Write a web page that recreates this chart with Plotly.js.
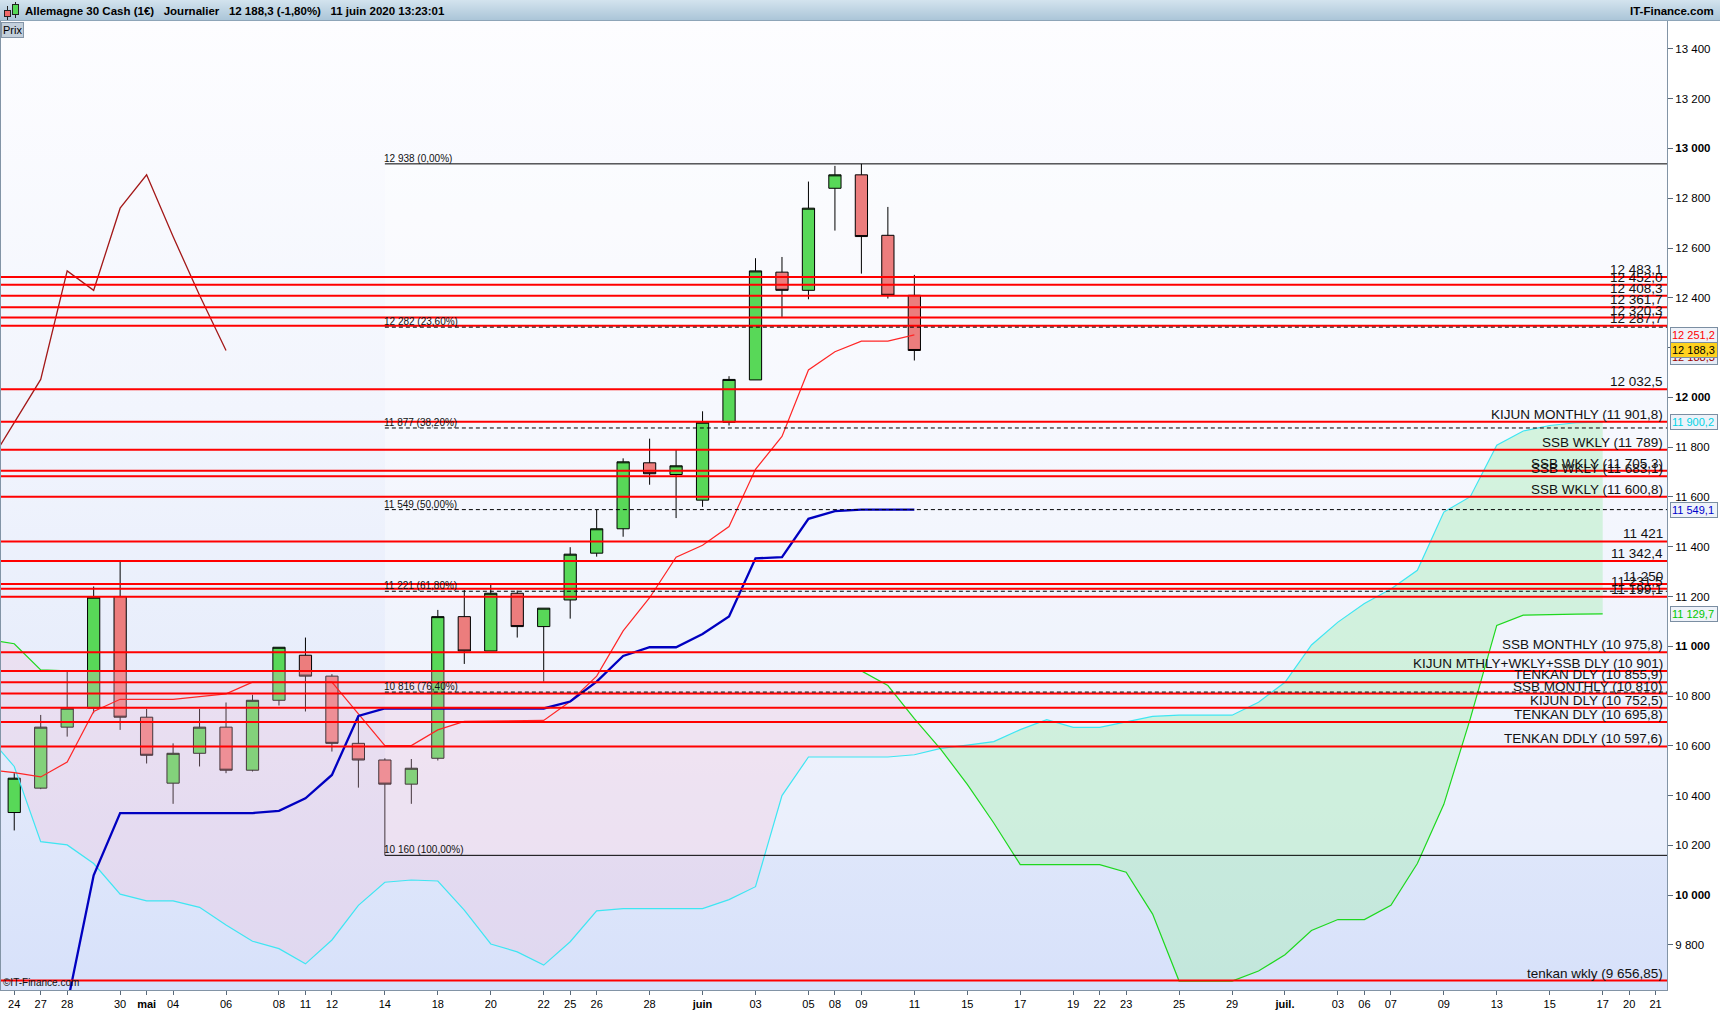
<!DOCTYPE html>
<html><head><meta charset="utf-8">
<script src="https://cdn.plot.ly/plotly-3.0.1.min.js"></script>
<style>
html,body{margin:0;padding:0;background:#fff;overflow:hidden;width:1720px;height:1010px;}
#bar{position:absolute;left:0;top:0;width:1720px;height:20px;background:linear-gradient(#d3e3ee,#abc5d8);border-bottom:1px solid #8ea5b8;}
#plotbg{position:absolute;left:1px;top:21px;width:1666px;height:969px;background:linear-gradient(#fdfdff 0%,#f2f5fd 40%,#e6ecfb 70%,#d7e1fa 100%);}
#chart{position:absolute;left:0;top:0;width:1720px;height:1010px;}
.ic{position:absolute;border:1px solid #222;box-sizing:border-box;}
.wk{position:absolute;width:1px;background:#222;}
</style></head><body>
<div id="bar"></div>
<div class="wk" style="left:7px;top:6px;height:14px"></div>
<div class="ic" style="left:4px;top:10px;width:7px;height:7px;background:#ef6a6a"></div>
<div class="wk" style="left:15px;top:2px;height:16px"></div>
<div class="ic" style="left:12px;top:4px;width:7px;height:11px;background:#55d855"></div>
<div id="plotbg"></div>
<div id="chart"></div>
<script>
// ---------- DATA ----------
const dates = ['2020-04-23','2020-04-24','2020-04-27','2020-04-28','2020-04-29','2020-04-30','2020-05-01','2020-05-04','2020-05-05','2020-05-06','2020-05-07','2020-05-08','2020-05-11','2020-05-12','2020-05-13','2020-05-14','2020-05-15','2020-05-18','2020-05-19','2020-05-20','2020-05-21','2020-05-22','2020-05-25','2020-05-26','2020-05-27','2020-05-28','2020-05-29','2020-06-01','2020-06-02','2020-06-03','2020-06-04','2020-06-05','2020-06-08','2020-06-09','2020-06-10','2020-06-11','2020-06-12','2020-06-15','2020-06-16','2020-06-17','2020-06-18','2020-06-19','2020-06-22','2020-06-23','2020-06-24','2020-06-25','2020-06-26','2020-06-29','2020-06-30','2020-07-01','2020-07-02','2020-07-03','2020-07-06','2020-07-07','2020-07-08','2020-07-09','2020-07-10','2020-07-13','2020-07-14','2020-07-15','2020-07-16','2020-07-17','2020-07-20','2020-07-21'];

const candleDates = ['2020-04-24','2020-04-27','2020-04-28','2020-04-29','2020-04-30','2020-05-01','2020-05-04','2020-05-05','2020-05-06','2020-05-07','2020-05-08','2020-05-11','2020-05-12','2020-05-13','2020-05-14','2020-05-15','2020-05-18','2020-05-19','2020-05-20','2020-05-21','2020-05-22','2020-05-25','2020-05-26','2020-05-27','2020-05-28','2020-05-29','2020-06-01','2020-06-02','2020-06-03','2020-06-04','2020-06-05','2020-06-08','2020-06-09','2020-06-10','2020-06-11'];
const open  = [10332,10430,10675,10751,11200,10715,10450,10570,10675,10502,10783,10964,10880,10610,10543,10446,10550,11119,10981,11213,11079,11186,11374,11472,11737,11690,11587,11900,12070,12503,12430,12840,12894,12651,12410];
const high  = [10490,10724,10898,11240,11340,10748,10610,10748,10774,10805,10996,11035,10888,10718,10550,10547,11146,11226,11247,11224,11153,11398,11548,11755,11834,11790,11944,12085,12559,12564,12867,12930,12938,12765,12492];
const low   = [10260,10426,10637,10731,10664,10529,10367,10517,10490,10497,10762,10738,10577,10432,10160,10367,10541,10929,10981,11035,10858,11111,11360,11440,11649,11515,11560,11887,12070,12323,12394,12670,12497,12397,12148];
const close = [10470,10675,10751,11197,10715,10562,10570,10675,10502,10783,10996,10880,10610,10543,10446,10510,11119,10981,11213,11079,11153,11370,11472,11741,11693,11725,11900,12072,12508,12430,12760,12894,12646,12410,12188.3];

// Ichimoku lines (from 2020-04-23)
const tenkan = [10505,10492,10475,10535,10738,10787,10787,10787,10798,10809,10856,10856,10856,10856,10728,10601,10601,10664,10698,10700,10700,10702,10778,10880,11062,11195,11358,11406,11481,11711,11843,12110,12183,12226,12226,12251.2];
const kijun  = [9300,9350,9420,9560,10080,10330,10330,10330,10330,10330,10330,10339,10389,10483,10720,10750,10750,10750,10750,10750,10750,10750,10778,10858,10961,10996,10996,11049,11120,11353,11358,11512,11543,11549.1,11549.1,11549.1];
const spanA  = [10640,10517,10215,10202,10127,10004,9977,9977,9951,9880,9815,9785,9724,9820,9959,10052,10061,10057,9940,9804,9772,9719,9813,9937,9946,9946,9946,9946,9982,10034,10400,10555,10555,10555,10555,10564,10590,10603,10617,10665,10705,10674,10674,10696,10718,10723,10723,10723,10775,10855,11005,11097,11172,11230,11305,11539,11601,11808,11865,11887,11898,11900.2];
const spanB  = [11027,11010,10905,10901,10901,10901,10901,10901,10901,10901,10901,10901,10901,10901,10901,10901,10901,10901,10901,10901,10901,10901,10901,10901,10901,10901,10901,10901,10901,10901,10901,10901,10901,10901,10842,10709,10586,10445,10290,10123,10123,10123,10123,10092,9924,9655,9655,9655,9695,9761,9858,9902,9902,9959,10127,10365,10709,11084,11125,11128,11129,11129.7];

// horizontal support / resistance levels
const levelValues = [12483.1,12452.0,12408.3,12361.7,12320.3,12287.7,12032.5,11901.8,11789,11705.3,11683.1,11600.8,11421,11342.4,11250,11231.5,11199.1,10975.8,10901,10855.9,10810,10752.5,10695.8,10597.6,9656.85];
const levelLabels = ['12 483,1','12 452,0','12 408,3','12 361,7','12 320,3','12 287,7','12 032,5','KIJUN MONTHLY (11 901,8)','SSB WKLY (11 789)','SSB WKLY (11 705,3)','SSB WKLY (11 683,1)','SSB WKLY (11 600,8)','11 421','11 342,4','11 250','11 231,5','11 199,1','SSB MONTHLY (10 975,8)','KIJUN MTHLY+WKLY+SSB DLY (10 901)','TENKAN DLY (10 855,9)','SSB MONTHLY (10 810)','KIJUN DLY (10 752,5)','TENKAN DLY (10 695,8)','TENKAN DDLY (10 597,6)','tenkan wkly (9 656,85)'];

// Fibonacci retracement
const fibStart = '2020-05-14';
const fibValues = [12938,12282,11877,11549,11221,10816,10160];
const fibLabels = ['12 938 (0,00%)','12 282 (23,60%)','11 877 (38,20%)','11 549 (50,00%)','11 221 (61,80%)','10 816 (76,40%)','10 160 (100,00%)'];

// axis ticks
const tickDates = ['2020-04-24','2020-04-27','2020-04-28','2020-04-30','2020-05-01','2020-05-04','2020-05-06','2020-05-08','2020-05-11','2020-05-12','2020-05-14','2020-05-18','2020-05-20','2020-05-22','2020-05-25','2020-05-26','2020-05-28','2020-06-01','2020-06-03','2020-06-05','2020-06-08','2020-06-09','2020-06-11','2020-06-15','2020-06-17','2020-06-19','2020-06-22','2020-06-23','2020-06-25','2020-06-29','2020-07-01','2020-07-03','2020-07-06','2020-07-07','2020-07-09','2020-07-13','2020-07-15','2020-07-17','2020-07-20','2020-07-21'];
const tickLabels = ['24','27','28','30','<b>mai</b>','04','06','08','11','12','14','18','20','22','25','26','28','<b>juin</b>','03','05','08','09','11','15','17','19','22','23','25','29','<b>juil.</b>','03','06','07','09','13','15','17','20','21'];
const yTicks = [9800,10000,10200,10400,10600,10800,11000,11200,11400,11600,11800,12000,12200,12400,12600,12800,13000,13200,13400];
const yTickLabels = ['9 800','<b>10 000</b>','10 200','10 400','10 600','10 800','<b>11 000</b>','11 200','11 400','11 600','11 800','<b>12 000</b>','12 200','12 400','12 600','12 800','<b>13 000</b>','13 200','13 400'];

// ---------- BUILD ----------
const FONT = 'Liberation Sans, Arial, sans-serif';
const xOf = d => dates.indexOf(d);
const idx = dates.map((d,i)=>i);
const xRange = [0.5, 63.43];
const yRange = [9619, 13512];
const M = {l:1, r:53, t:21, b:20};
const W = 1720, H = 1010;
const pw = W - M.l - M.r, ph = H - M.t - M.b;
const pxX = px => (px - M.l)/pw;
const pxY = py => (H - M.b - py)/ph;
const fr = v => {
  const s = v.toFixed(1).split('.');
  return s[0].replace(/\B(?=(\d{3})+(?!\d))/g,' ') + ',' + s[1];
};

const traces = [];
// cloud fills
(function(){
  const n = spanA.length, xs = idx.slice(0,n);
  let cur = null; const polys = [];
  for (let i=0;i<n;i++){
    const s = (spanA[i]-spanB[i]) >= 0 ? 1 : -1;
    if(!cur){cur={s,pts:[[xs[i],spanA[i],spanB[i]]]};continue;}
    if(s!==cur.s){
      const d0=spanA[i-1]-spanB[i-1], d1=spanA[i]-spanB[i];
      const t=d0/(d0-d1);
      const xc=xs[i-1]+t*(xs[i]-xs[i-1]);
      const yc=spanA[i-1]+t*(spanA[i]-spanA[i-1]);
      cur.pts.push([xc,yc,yc]); polys.push(cur);
      cur={s,pts:[[xc,yc,yc]]};
    }
    cur.pts.push([xs[i],spanA[i],spanB[i]]);
  }
  polys.push(cur);
  polys.forEach(p=>{
    const x = p.pts.map(q=>q[0]).concat(p.pts.map(q=>q[0]).reverse());
    const y = p.pts.map(q=>q[1]).concat(p.pts.map(q=>q[2]).reverse());
    traces.push({type:'scatter',mode:'lines',x,y,fill:'toself',line:{width:0},
      fillcolor: p.s>0 ? 'rgba(170,238,185,0.45)' : 'rgba(245,190,215,0.28)',hoverinfo:'skip'});
  });
})();

traces.push({type:'scatter',mode:'lines',x:idx.slice(0,spanA.length),y:spanA,line:{color:'#3ee6f2',width:1.2}});
traces.push({type:'scatter',mode:'lines',x:idx.slice(0,spanB.length),y:spanB,line:{color:'#1ed81e',width:1.2}});

traces.push({type:'candlestick',x:candleDates.map(xOf),open,high,low,close,
  increasing:{line:{color:'#000',width:1},fillcolor:'#58d858'},
  decreasing:{line:{color:'#000',width:1},fillcolor:'#ec7d7d'},
  whiskerwidth:0,hoverinfo:'skip'});

// chikou = closes shifted back 26 periods
const chX=[], chY=[];
candleDates.forEach((d,i)=>{const x=xOf(d)-26; if(x>=0){chX.push(x);chY.push(close[i]);}});
traces.push({type:'scatter',mode:'lines',x:chX,y:chY,line:{color:'#a31818',width:1.3}});
traces.push({type:'scatter',mode:'lines',x:idx.slice(0,tenkan.length),y:tenkan,line:{color:'#ff2626',width:1.2}});
traces.push({type:'scatter',mode:'lines',x:idx.slice(0,kijun.length),y:kijun,line:{color:'#0000c0',width:2.3}});

const shapes = [];
const annotations = [];
const fx = xOf(fibStart);
shapes.push({type:'rect',xref:'x',yref:'y',x0:fx,x1:xRange[1],y0:fibValues[fibValues.length-1],y1:fibValues[0],
  fillcolor:'rgba(255,255,255,0.35)',line:{width:0},layer:'below'});
levelValues.forEach((v,i)=>{
  shapes.push({type:'line',xref:'paper',yref:'y',x0:0,x1:1,y0:v,y1:v,line:{color:'#ff0000',width:2},layer:'above'});
  annotations.push({xref:'paper',yref:'y',x:1,y:v,xanchor:'right',yanchor:'bottom',xshift:-2,yshift:-2,
    text:levelLabels[i],showarrow:false,font:{family:FONT,size:13.5,color:'#111'}});
});
fibValues.forEach((v,i)=>{
  const solid = (i===0 || i===fibValues.length-1);
  shapes.push({type:'line',xref:'x',yref:'y',x0:fx,x1:xRange[1],y0:v,y1:v,
    line:{color:'#000',width:1,dash: solid?'solid':'4px,3px'},layer:'above'});
  annotations.push({xref:'x',yref:'y',x:fx,y:v,xanchor:'left',yanchor:'bottom',yshift:-2,xshift:-3,
    text:fibLabels[i],showarrow:false,font:{family:FONT,size:10,color:'#111'}});
});

// last-value boxes on the price axis
function valBox(v,color,bg,ys){
  annotations.push({xref:'paper',yref:'y',x:1,y:v,xanchor:'left',yanchor:'middle',xshift:3,yshift:ys||0,
    text:fr(v),showarrow:false,width:44,align:'left',bgcolor:bg,bordercolor:'#7b8ea2',borderwidth:1,borderpad:1,
    font:{family:FONT,size:11,color}});
}
valBox(tenkan[tenkan.length-1],'#ff0000','#eef2f9');
valBox(chY[chY.length-1],'#9a0000','#e6ecf6',-7);
valBox(close[close.length-1],'#000','#ffd21f');
valBox(spanA[spanA.length-1],'#00d4e6','#eef2f9');
valBox(kijun[kijun.length-1],'#0000cc','#eef2f9');
valBox(spanB[spanB.length-1],'#00c800','#eef2f9');

// header texts
const NB = '\u00a0\u00a0\u00a0';
annotations.push({xref:'paper',yref:'paper',x:pxX(23),y:pxY(10.5),xanchor:'left',yanchor:'middle',showarrow:false,
  text:'<b>Allemagne 30 Cash (1€)'+NB+'Journalier'+NB+'12 188,3 (-1,80%)'+NB+'11 juin 2020 13:23:01</b>',
  font:{family:FONT,size:11.5,color:'#000'}});
annotations.push({xref:'paper',yref:'paper',x:pxX(1716),y:pxY(10.5),xanchor:'right',yanchor:'middle',showarrow:false,
  text:'<b>IT-Finance.com</b>',font:{family:FONT,size:11.5,color:'#000'}});
annotations.push({xref:'paper',yref:'paper',x:pxX(1),y:pxY(22),xanchor:'left',yanchor:'top',showarrow:false,
  text:'Prix',bgcolor:'#c3cfdb',bordercolor:'#8495a8',borderwidth:1,borderpad:1,font:{family:FONT,size:11,color:'#000'}});
annotations.push({xref:'paper',yref:'paper',x:pxX(1),y:0,xanchor:'left',yanchor:'bottom',yshift:0,showarrow:false,
  text:'©IT-Finance.com',font:{family:FONT,size:10,color:'#111'}});

const layout = {
  width:W,height:H,margin:{l:M.l,r:M.r,t:M.t,b:M.b,pad:0},
  paper_bgcolor:'rgba(0,0,0,0)',plot_bgcolor:'rgba(0,0,0,0)',
  showlegend:false,hovermode:false,boxgap:0.34,
  xaxis:{type:'linear',range:xRange,tickmode:'array',tickvals:tickDates.map(xOf),ticktext:tickLabels,
    ticks:'outside',ticklen:4,tickcolor:'#5a6a7a',showgrid:false,zeroline:false,showline:true,
    linecolor:'#8294a6',linewidth:1,tickfont:{family:FONT,size:11,color:'#000'},rangeslider:{visible:false},fixedrange:true},
  yaxis:{side:'right',range:yRange,tickmode:'array',tickvals:yTicks,ticktext:yTickLabels,ticks:'outside',ticklen:5,
    tickcolor:'#5a6a7a',showgrid:false,zeroline:false,showline:true,mirror:true,linecolor:'#8294a6',linewidth:1,
    tickfont:{family:FONT,size:11.5,color:'#000'},fixedrange:true},
  shapes,annotations
};
Plotly.newPlot('chart',traces,layout,{staticPlot:true,displayModeBar:false});
</script>
</body></html>
